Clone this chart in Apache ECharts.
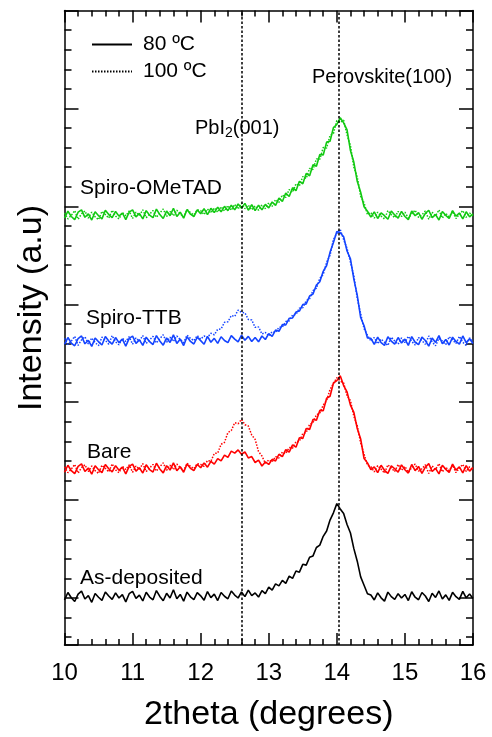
<!DOCTYPE html>
<html>
<head>
<meta charset="utf-8">
<script src="https://cdn.jsdelivr.net/npm/echarts@6/dist/echarts.min.js"></script>
<style>
  html, body { margin: 0; padding: 0; background: #fff; }
  #chart { width: 492px; height: 737px; }
</style>
</head>
<body>
<div id="chart"></div>
<script>
// Diffraction angle grid (degrees)
const twoTheta = [
  10.00,10.05,10.10,10.15,10.20,10.25,10.30,10.35,10.40,10.45,10.50,10.55,10.60,10.65,10.70,10.75,10.80,10.85,10.90,10.95,
  11.00,11.05,11.10,11.15,11.20,11.25,11.30,11.35,11.40,11.45,11.50,11.55,11.60,11.65,11.70,11.75,11.80,11.85,11.90,11.95,
  12.00,12.05,12.10,12.15,12.20,12.25,12.30,12.35,12.40,12.45,12.50,12.55,12.60,12.65,12.70,12.75,12.80,12.85,12.90,12.95,
  13.00,13.05,13.10,13.15,13.20,13.25,13.30,13.35,13.40,13.45,13.50,13.55,13.60,13.65,13.70,13.75,13.80,13.85,13.90,13.95,
  14.00,14.05,14.10,14.15,14.20,14.25,14.30,14.35,14.40,14.45,14.50,14.55,14.60,14.65,14.70,14.75,14.80,14.85,14.90,14.95,
  15.00,15.05,15.10,15.15,15.20,15.25,15.30,15.35,15.40,15.45,15.50,15.55,15.60,15.65,15.70,15.75,15.80,15.85,15.90,15.95,16.00
];

// Offset intensities (a.u.) for each film
const asDeposited80 = [
  2.30,2.68,2.41,2.22,2.60,2.75,2.35,2.52,2.18,2.63,2.44,2.28,2.71,2.50,2.33,2.66,2.40,2.57,2.20,2.62,
  2.74,2.38,2.55,2.25,2.69,2.45,2.31,2.78,2.48,2.26,2.64,2.40,2.82,2.36,2.58,2.24,2.70,2.46,2.32,2.67,
  2.51,2.29,2.73,2.42,2.60,2.27,2.68,2.49,2.36,2.76,2.55,2.40,2.71,2.47,2.80,2.52,2.66,2.45,2.78,2.62,
  2.95,2.80,3.12,3.02,3.30,3.15,3.52,3.40,3.78,3.72,4.12,4.08,4.48,4.55,4.98,5.10,5.55,5.82,6.38,6.75,
  7.22,6.95,6.72,6.15,5.72,4.92,4.28,3.48,3.05,2.62,2.55,2.30,2.66,2.41,2.24,2.70,2.47,2.33,2.62,2.40,
  2.58,2.27,2.72,2.44,2.31,2.68,2.50,2.22,2.64,2.43,2.76,2.35,2.56,2.28,2.69,2.47,2.33,2.74,2.41,2.60,2.38
];

const bare80 = [
  8.82,9.18,8.90,8.75,9.12,9.25,8.86,9.04,8.72,9.15,8.95,8.80,9.22,9.00,8.84,9.16,8.92,9.08,8.74,9.12,
  9.24,8.88,9.05,8.78,9.20,8.96,8.83,9.28,8.99,8.79,9.16,8.93,9.30,8.90,9.10,8.82,9.24,9.02,8.90,9.22,
  9.05,9.30,9.08,9.38,9.24,9.52,9.40,9.70,9.58,9.90,9.80,9.96,9.74,9.86,9.55,9.62,9.32,9.44,9.14,9.35,
  9.22,9.48,9.40,9.74,9.62,9.98,9.85,10.22,10.10,10.58,10.55,11.05,11.00,11.52,11.48,11.98,11.96,12.60,12.70,13.38,
  13.50,13.75,13.25,12.92,12.25,11.88,11.05,10.52,9.52,9.30,8.96,9.10,8.80,9.18,8.92,8.76,9.15,9.00,8.83,9.20,
  8.95,8.78,9.22,8.90,9.12,8.76,9.08,9.26,8.86,9.02,8.74,9.18,8.97,8.81,9.24,8.93,9.10,8.79,9.16,8.88,9.06
];

const bare100 = [
  9.10,8.80,8.98,9.22,8.78,9.06,9.20,8.85,9.14,8.90,8.76,9.18,9.02,8.84,9.25,8.94,8.80,9.12,8.96,9.20,
  8.82,9.14,8.98,9.26,8.86,9.04,9.22,8.88,9.10,9.30,8.92,9.18,8.96,9.24,9.06,8.90,9.28,9.12,9.00,9.26,
  9.22,9.12,9.42,9.38,9.78,9.80,10.25,10.35,10.85,10.95,11.35,11.30,11.52,11.25,11.18,10.72,10.50,9.88,9.65,9.28,
  9.45,9.35,9.62,9.55,9.85,9.78,10.08,10.05,10.38,10.40,10.80,10.85,11.26,11.35,11.75,11.85,12.25,12.48,13.05,13.35,
  13.65,13.48,13.38,12.72,12.48,11.68,11.20,10.32,9.75,9.18,9.10,8.84,9.16,8.98,8.78,9.20,9.04,8.86,9.22,8.92,
  9.12,8.82,9.06,9.24,8.88,9.00,9.20,8.76,9.14,8.96,9.26,8.84,9.08,8.90,9.18,8.80,9.04,9.22,8.86,9.10,8.94
];

const spiroTTB80 = [
  15.35,15.70,15.42,15.28,15.65,15.78,15.38,15.56,15.25,15.68,15.48,15.32,15.75,15.52,15.36,15.70,15.44,15.62,15.26,15.66,
  15.77,15.40,15.58,15.30,15.72,15.49,15.34,15.80,15.52,15.31,15.68,15.45,15.84,15.40,15.62,15.29,15.74,15.50,15.37,15.72,
  15.54,15.36,15.76,15.46,15.66,15.40,15.74,15.55,15.44,15.80,15.62,15.48,15.82,15.56,15.76,15.50,15.70,15.48,15.78,15.60,
  15.90,15.76,16.08,16.02,16.36,16.34,16.68,16.70,17.00,17.05,17.38,17.42,17.82,17.92,18.38,18.55,19.08,19.38,20.05,20.55,
  21.12,21.05,20.85,20.12,19.72,18.68,17.85,16.72,16.30,15.68,15.66,15.35,15.72,15.44,15.30,15.74,15.52,15.36,15.70,15.42,
  15.62,15.30,15.75,15.46,15.34,15.72,15.55,15.26,15.68,15.45,15.80,15.38,15.60,15.32,15.72,15.50,15.36,15.78,15.44,15.64,15.40
];

const spiroTTB100 = [
  15.66,15.34,15.52,15.76,15.30,15.58,15.74,15.38,15.68,15.44,15.29,15.72,15.56,15.36,15.80,15.48,15.33,15.66,15.50,15.74,
  15.36,15.68,15.52,15.80,15.40,15.58,15.76,15.42,15.64,15.84,15.46,15.72,15.50,15.78,15.60,15.44,15.82,15.66,15.54,15.80,
  15.62,15.78,15.70,15.92,15.84,16.12,16.14,16.48,16.50,16.82,16.78,17.10,16.98,16.96,16.62,16.60,16.22,16.24,15.88,15.96,
  15.78,16.00,15.96,16.22,16.24,16.52,16.55,16.85,16.88,17.20,17.22,17.58,17.68,18.10,18.22,18.72,18.92,19.55,19.90,20.70,
  21.02,21.22,20.70,20.25,19.55,18.85,17.70,16.92,16.15,15.82,15.52,15.70,15.38,15.62,15.46,15.30,15.72,15.52,15.36,15.68,
  15.44,15.76,15.50,15.32,15.70,15.54,15.36,15.78,15.48,15.28,15.66,15.52,15.34,15.74,15.58,15.40,15.76,15.46,15.30,15.68,15.52
];

const spiroOMeTAD80 = [
  21.80,22.15,21.88,21.72,22.10,22.22,21.84,22.02,21.70,22.12,21.92,21.76,22.20,21.98,21.82,22.14,21.90,22.06,21.72,22.10,
  22.22,21.86,22.04,21.76,22.18,21.95,21.82,22.26,21.98,21.78,22.16,21.92,22.30,21.88,22.10,21.80,22.24,22.00,21.88,22.22,
  22.02,22.28,21.98,22.30,22.08,22.36,22.12,22.40,22.18,22.46,22.22,22.52,22.30,22.55,22.20,22.48,22.18,22.46,22.22,22.50,
  22.32,22.62,22.45,22.82,22.65,23.08,22.90,23.35,23.20,23.68,23.55,24.08,23.96,24.52,24.45,25.05,25.02,25.68,25.72,26.42,
  26.58,26.92,26.66,26.30,25.25,24.65,23.68,23.12,22.38,22.15,21.85,22.12,21.78,22.06,21.92,21.74,22.16,21.96,21.80,22.14,
  21.88,21.72,22.16,21.92,22.08,21.74,22.04,22.20,21.82,21.98,21.70,22.14,21.94,21.78,22.18,21.90,22.06,21.76,22.12,21.86,22.02
];

const spiroOMeTAD100 = [
  22.06,21.76,21.94,22.18,21.74,22.02,22.16,21.80,22.10,21.86,21.72,22.14,21.98,21.80,22.20,21.90,21.76,22.08,21.92,22.16,
  21.78,22.10,21.94,22.22,21.82,22.00,22.18,21.84,22.06,22.26,21.88,22.14,21.92,22.20,22.02,21.86,22.24,22.08,21.96,22.22,
  22.18,21.98,22.26,22.06,22.32,22.10,22.38,22.16,22.44,22.20,22.50,22.26,22.56,22.28,22.46,22.22,22.42,22.20,22.48,22.28,
  22.58,22.40,22.74,22.60,22.98,22.85,23.26,23.12,23.55,23.45,23.92,23.82,24.34,24.28,24.82,24.80,25.40,25.38,26.02,26.12,
  26.78,26.70,26.80,26.05,25.50,24.40,23.90,22.92,22.58,21.98,22.08,21.80,22.10,21.90,21.76,22.18,21.98,21.82,22.14,21.88,
  22.10,21.80,22.02,22.20,21.84,21.96,22.16,21.74,22.10,21.92,22.22,21.80,22.04,21.86,22.14,21.78,22.00,22.18,21.84,22.06,21.90
];

// Reference peak positions (degrees)
const peakPositions = [12.6, 14.03];

const xTickValues = [10, 11, 12, 13, 14, 15, 16];
const legendNames = ['80 ºC', '100 ºC'];

const FONT = '"Liberation Sans", Arial, Helvetica, sans-serif';
const INK = '#000';
const GREEN = '#12c912';
const BLUE = '#1444ff';
const RED = '#ff0000';

const pairs = (vals) => twoTheta.map((x, i) => [x, vals[i]]);

function traceSeries(name, values, color, dotted) {
  return {
    name: name,
    type: 'line',
    xAxisIndex: 0,
    yAxisIndex: 0,
    data: pairs(values),
    showSymbol: false,
    symbol: 'none',
    silent: true,
    lineStyle: dotted
      ? { color: color, width: 1.5, type: [1.5, 1.5] }
      : { color: color, width: 1.6, type: 'solid' },
    z: dotted ? 3 : 2
  };
}

// Tick-only vertical axes (inverse so ticks are counted from the top edge)
function tickAxis(position, interval, len, showLine) {
  return {
    type: 'value',
    position: position,
    inverse: true,
    min: 0,
    max: 32.4,
    interval: interval,
    axisLine: { show: showLine, onZero: false, lineStyle: { color: INK, width: 1.5 } },
    axisTick: { show: true, inside: true, length: len, lineStyle: { color: INK, width: 1.5 } },
    axisLabel: { show: false },
    splitLine: { show: false }
  };
}

const xAxisBase = {
  type: 'value',
  min: 10,
  max: 16,
  interval: 1,
  axisLine: { show: true, onZero: false, lineStyle: { color: INK, width: 1.5 } },
  axisTick: { show: true, inside: true, length: 12, lineStyle: { color: INK, width: 1.5 } },
  minorTick: { show: true, splitNumber: 5, length: 6, lineStyle: { color: INK, width: 1.5 } },
  splitLine: { show: false }
};

const chart = echarts.init(document.getElementById('chart'), null, { renderer: 'canvas' });

chart.setOption({
  animation: false,
  backgroundColor: '#fff',
  grid: { left: 64.5, right: 19, top: 10.5, bottom: 84, containLabel: false },
  xAxis: [
    Object.assign({}, xAxisBase, {
      position: 'bottom',
      axisLabel: {
        show: true, margin: 16, fontSize: 24, color: INK, fontFamily: FONT,
        customValues: xTickValues
      },
      name: '2theta (degrees)',
      nameLocation: 'middle',
      nameGap: 53,
      nameTextStyle: { fontSize: 34, color: INK, fontFamily: FONT }
    }),
    Object.assign({}, xAxisBase, {
      position: 'top',
      axisLabel: { show: false }
    })
  ],
  yAxis: [
    {
      type: 'value', min: 0, max: 32.4, position: 'left',
      axisLine: { show: false }, axisTick: { show: false },
      axisLabel: { show: false }, splitLine: { show: false }
    },
    tickAxis('left', 1, 7, true),
    tickAxis('left', 5, 14, false),
    tickAxis('right', 1, 7, true),
    tickAxis('right', 5, 14, false)
  ],
  legend: {
    data: legendNames,
    orient: 'vertical',
    left: 86,
    top: 29,
    itemWidth: 40,
    itemHeight: 20,
    itemGap: 6,
    selectedMode: false,
    itemStyle: { opacity: 0 },
    textStyle: { fontSize: 21, color: INK, fontFamily: FONT, padding: [0, 0, 0, 6] }
  },
  series: [
    {
      name: legendNames[0], type: 'line', data: [], symbol: 'none',
      lineStyle: { color: INK, width: 1.4, type: 'solid' }, itemStyle: { color: INK }
    },
    {
      name: legendNames[1], type: 'line', data: [], symbol: 'none',
      lineStyle: { color: INK, width: 1.4, type: [1.5, 1.5] }, itemStyle: { color: INK }
    },
    Object.assign(traceSeries('As-deposited', asDeposited80, INK, false), {
      markLine: {
        silent: true,
        symbol: ['none', 'none'],
        label: { show: false },
        lineStyle: { color: INK, width: 1.5, type: [2.5, 2] },
        data: peakPositions.map(v => ({ xAxis: v }))
      }
    }),
    traceSeries('Bare 80', bare80, RED, false),
    traceSeries('Bare 100', bare100, RED, true),
    traceSeries('Spiro-TTB 80', spiroTTB80, BLUE, false),
    traceSeries('Spiro-TTB 100', spiroTTB100, BLUE, true),
    traceSeries('Spiro-OMeTAD 80', spiroOMeTAD80, GREEN, false),
    traceSeries('Spiro-OMeTAD 100', spiroOMeTAD100, GREEN, true)
  ],
  graphic: [
    {
      type: 'text', x: 32, y: 308, rotation: Math.PI / 2,
      style: { text: 'Intensity (a.u)', fontSize: 34, fontFamily: FONT, fill: INK, align: 'center', verticalAlign: 'middle' }
    },
    { type: 'text', x: 80, y: 188, style: { text: 'Spiro-OMeTAD', fontSize: 21, fontFamily: FONT, fill: INK, verticalAlign: 'middle' } },
    { type: 'text', x: 86, y: 318, style: { text: 'Spiro-TTB', fontSize: 21, fontFamily: FONT, fill: INK, verticalAlign: 'middle' } },
    { type: 'text', x: 87, y: 452, style: { text: 'Bare', fontSize: 21, fontFamily: FONT, fill: INK, verticalAlign: 'middle' } },
    { type: 'text', x: 80, y: 578, style: { text: 'As-deposited', fontSize: 21, fontFamily: FONT, fill: INK, verticalAlign: 'middle' } },
    { type: 'text', x: 312, y: 77, style: { text: 'Perovskite(100)', fontSize: 20, fontFamily: FONT, fill: INK, verticalAlign: 'middle' } },
    {
      type: 'text', x: 195, y: 128,
      style: {
        text: '{a|PbI}{b|2}{a|(001)}',
        verticalAlign: 'middle',
        rich: {
          a: { fontSize: 20, fontFamily: FONT, fill: INK, color: INK },
          b: { fontSize: 14, fontFamily: FONT, fill: INK, color: INK, padding: [10, 0, 0, 0] }
        }
      }
    }
  ]
});
</script>
</body>
</html>
